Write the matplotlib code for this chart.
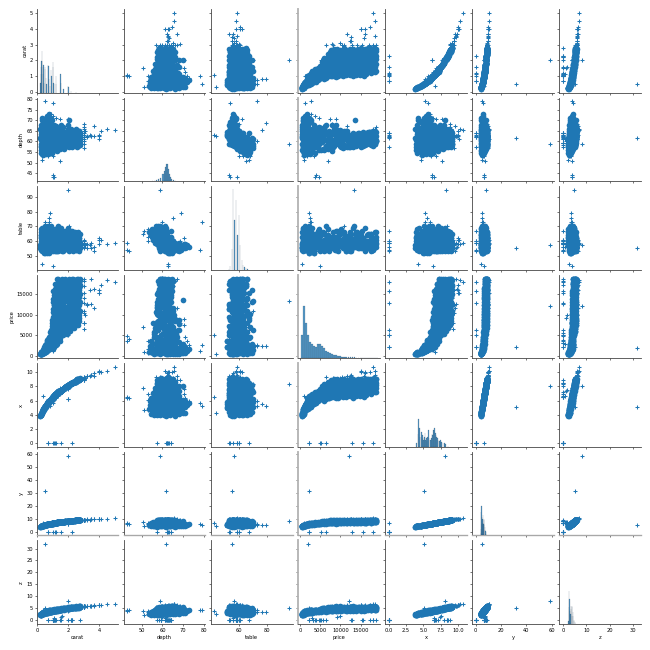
import matplotlib
matplotlib.use("Agg")
import matplotlib.pyplot as plt

NAMES = ["carat", "depth", "table", "price", "x", "y", "z"]

carat = [
    .2,.23,.21,.24,.25,.23,.26,.22,.27,.24,.28,.25,.29,.26,
    .3,.31,.32,.3,.33,.34,.31,.35,.32,.36,.33,.37,.38,.39,
    .4,.41,.42,.43,.4,.44,.45,.41,.46,.47,.42,.48,.49,.45,
    .5,.51,.52,.53,.5,.54,.55,.56,.51,.57,.58,.52,.59,.55,
    .6,.61,.62,.63,.6,.64,.65,.66,.61,.67,.68,.62,.69,.65,
    .7,.71,.72,.73,.7,.74,.75,.71,.76,.77,.72,.78,.79,.75,
    .8,.81,.82,.83,.8,.84,.85,.86,.81,.87,.88,.82,.89,.85,
    .9,.91,.92,.93,.9,.94,.95,.96,.91,.97,.98,.92,.99,.95,
    1,1.01,1,1.02,1.01,1.03,1,1.04,1.02,1.05,1.01,1.03,1.06,1,1.07,1.02,1.04,1.08,1.01,1.05,1.09,1.03,
    1.1,1.11,1.1,1.12,1.13,1.1,1.14,1.11,1.15,1.12,1.16,1.1,1.17,1.13,1.18,1.14,1.12,1.19,1.15,1.16,1.13,1.18,
    1.2,1.21,1.22,1.2,1.23,1.24,1.21,1.25,1.22,1.26,1.23,1.27,1.2,1.28,1.24,1.29,1.25,1.21,1.26,1.23,1.27,1.29,
    1.3,1.31,1.32,1.33,1.3,1.34,1.35,1.31,1.36,1.37,1.32,1.38,1.33,1.39,1.34,1.35,1.36,1.3,1.37,1.38,1.39,1.35,
    1.45,1.5,1.51,1.47,1.52,1.5,1.55,1.53,1.5,1.58,1.54,1.6,1.5,1.56,1.52,1.62,1.51,1.57,1.5,1.59,1.53,1.6,
    1.65,1.7,1.72,1.68,1.75,1.7,1.78,1.71,1.8,1.74,1.82,1.7,1.76,1.85,1.72,1.8,1.73,1.84,1.75,1.7,1.82,1.78,
    1.9,2,2.01,1.95,2.02,2,2.03,1.98,2.05,2.01,2.07,2,2.04,2.1,2.02,2.08,2.01,2.05,2,2.1,2.03,2.06,
    2.15,2.2,2.22,2.18,2.25,2.2,2.28,2.21,2.3,2.24,2.32,2.2,2.26,2.35,2.22,2.3,2.23,2.34,2.25,2.2,2.32,2.28,
    2.4,2.5,2.42,2.52,2.45,2.5,2.55,2.48,2.6,2.51,2.44,2.58,2.5,2.46,2.54,2.6,2.47,2.56,2.5,2.53,2.42,2.58,
    2.65,2.7,2.72,2.68,2.75,2.66,2.7,2.74,2.67,2.71,2.76,2.65,2.72,2.69,2.75,2.8,2.68,2.73,2.7,2.78,2.66,2.74,
    # largest stones
    5.01,4.5,4.13,4.01,4.01,4,3.67,3.65,3.51,3.5,3.4,3.24,3.22,3.11,
    3,3,3,3,3,3,3,3,3,3,3.02,
    # zero and near-zero dimensions
    1,1.01,1.1,1.01,1.5,1.15,2.18,2.25,2.2,2.02,2.8,
    .71,.71,1.07,1,1.14,1.56,1.2,2.25,
    1.12,1.53,1.6,
    # extreme cuts
    1,1,1.09,.5,1.03,.3,1.5,2.01,.81,.79,.77,1.04,.29,
    2,.51,.51,2,2,.35,
    .9,1,1.5,2,1.25,.7,1,.3,2.05,
]
depth = [
    61.5,56,66,59,63.5,60.5,68,57.5,62.5,58,65,61,70,54.5,
    62,55.5,67,59.5,64,60,71,57,63,56.5,65.5,61,53.5,69,
    61.2,57,66,54.5,63.5,59,69.5,60.5,65,56,62.5,58,67.5,64.5,
    61.8,56,67,59,64,60.5,71,54,63,58,65.5,62,69,57,
    62,58,66.5,55,60,64,72,61,57,68,59.5,63.5,61.5,65,
    61.5,56.5,68,59,64,60,73,54,62.5,58,66,63,70.5,57.5,
    62,57,65,60,55,67,61,71,59,63.5,56,64.5,58,69,
    61.6,58,66,54.5,63,59.5,70,60.5,57,65,62.5,68,59,64,
    61.8,66,57,64,59.5,67,62.5,56,60.5,65,58.5,63.5,60,62,57.5,64.5,61,59,63,58,61.5,60,
    60,65,58,63,56,66.5,61,68,59,64,57.5,62,60.5,65.5,58.5,63.5,61.5,59.5,62.5,58,64,60.5,
    62.5,57,66,59,64.5,60.5,67.5,56.5,63,58,65,61,59.5,63.5,57.5,62,60,64,58.5,61.5,63,60,
    59,64,57,61.5,66,58,63,55.5,60.5,65,62,58.5,64,60,61,63.5,57.5,62.5,59.5,61,64,60,
    62,59,66.5,56.5,63.5,60,68,58,64.5,61,57,65,59.5,62.5,60.5,63,58.5,61.5,64,60,62,59,
    61,65,58,63,56.5,67,60,62.5,59,64,57.5,61.5,63.5,59.5,60.5,62,58.5,64.5,61,59,63,60,
    62,66,58,64,60,68,59,65,61,63,57.5,60.5,70,62.5,58.5,64,61,59.5,63.5,60,62,64.5,
    61,64.5,59,66,62,58,65,60.5,63,57.5,61.5,64,59.5,62.5,60,63.5,58.5,61,62,64,59,60.5,
    61,64,59,66,60,62.5,57.5,65,61.5,63,58.5,60,62,64.5,59,61,63.5,60.5,62,58,64,60,
    61,63.5,60,65,58.5,62,59.5,64,60.5,62.5,61,58,63,59,61.5,64,60,62,65,59.5,61,62.5,
    65.5,65.8,64.8,61,62.5,63.3,62.4,67.1,62.5,62.5,63,62.1,62.6,65,
    57,59,60,61,62,63,64,65,66,67,68.5,
    59.1,58.1,63,59.2,64,59.2,59.4,61.3,61.2,62.7,63.8,
    64.1,64.1,61.6,63.3,57.5,62.2,62.1,62.8,
    61,60,61,
    44,43,43,79,78.2,51,50.8,58.6,68.8,65.3,60,62.9,62.8,
    58.9,61.8,61.8,65,60,62,
    73,72,70.5,70.5,71,53,53,53,59.5,
]
table = [
    57,63,55,66,54,60,58,62,59,68,56,64,56,64,
    56,65,55,69,53,61,57,60,58,64,57,62,66,54,
    58,61,55,67,54,65,56,60,59,63,57,70,56,52,
    57,62,54,67,56,60,58,66,52,63,55,59,57,69,
    55,63,57,68,60,54,57,59,65,56,62,52,61,58,
    58,64,56,70,54,60,56,67,52,62,59,55,58,66,
    56,61,54,66,63,57,59,55,68,58,64,60,62,56,
    59,65,54,64,56,61,55,58,70,57,63,53,60,67,
    57,56,62,54,65,58,60,61,60,55,59,56,63,61,60,58,53,66,57,64,59,56,
    60,54,65,57,61,56,53,59,68,55,63,58,60,57,66,54,62,59,56,64,60,58,
    55,62,58,66,53,60,56,64,59,57,54,63,68,56,60,65,58,55,61,57,53,62,
    62,55,67,59,57,64,53,61,60,56,66,58,62,55,70,57,60,54,65,58,56,63,
    58,63,56,66,54,61,57,60,55,67,59,53,64,57,62,56,59,69,55,60,54,62,
    56,60,64,54,59,57,67,61,55,63,58,53,60,66,56,62,58,57,65,59,55,61,
    58,55,63,60,66,56,53,59,62,57,64,69,56,60,55,61,58,65,54,62,57,59,
    60,57,63,55,58,65,56,61,53,59,62,55,67,58,56,60,64,54,59,57,61,66,
    58,56,62,54,64,57,60,55,59,61,66,56,63,58,54,60,57,65,55,62,59,58,
    59,55,62,57,65,54,60,56,63,58,56,61,53,64,59,55,62,57,60,58,66,56,
    59,58,61,61,62,58,56,53,59,55,57,58,55,57,
    59,61,59,58,60,57,55,59,58,56,60,
    59,59,59,58,61,56,61,58,59,53,58,
    60,60,56,53,67,54,59,59,
    56,58,59,
    53,59,54,73,54,67,65,95,79,76,73,43,44,
    57,55,55,59,58,58,
    56,55,58,62,57,60,63,68,70,
]
price = [
    326,420,360,550,480,640,500,700,430,800,560,900,620,1000,
    480,650,560,800,700,950,610,1100,750,1300,900,1200,1050,1500,
    600,800,720,1000,1250,900,700,1400,1100,1700,1900,1300,1000,2100,
    900,1100,1300,1500,1750,1250,1000,1650,2100,1900,2300,2600,1600,2900,
    1100,1350,1600,1900,2200,1500,1250,2500,2900,1800,3200,3500,2100,3800,
    1400,1700,2000,2300,2700,3100,1600,2500,3500,2100,4000,3000,2400,4500,
    1600,2000,2400,2800,3200,3600,4100,2200,4600,3000,5200,5800,3800,2700,
    2000,2600,3000,3600,4400,5000,2800,5600,6400,4000,7200,3300,8000,8800,
    1750,2300,2900,3500,4100,4700,5300,5900,6500,7100,7700,8300,8900,9500,10100,10700,11500,12300,13100,13900,14800,15800,
    2200,2800,3400,4000,4600,5200,5800,6400,7000,7600,8200,8800,9400,10000,10800,11600,12400,13300,14200,15200,16300,17500,
    2700,3200,3800,4400,5000,5600,6200,6800,7400,8000,8700,9400,10100,10900,11700,12500,13400,14300,15300,16400,17500,18600,
    3000,3700,4400,5100,5800,6500,7200,7900,8600,9300,10000,10800,11600,12400,13300,14200,15100,16000,16900,17700,18300,18800,
    3600,4300,5000,5700,6400,7100,7800,8500,9200,9900,10600,11300,12000,12800,13600,14400,15200,16000,16800,17600,18200,18700,
    5000,5700,6400,7100,7800,8500,9200,9900,10600,11300,12000,12700,13400,14100,14800,15500,16200,16900,17500,18000,18400,18800,
    5300,6000,6700,7400,8100,8800,9500,10200,10900,11600,12300,13000,13700,14400,15100,15800,16400,17000,17500,18000,18400,18800,
    6000,6800,7600,8400,9200,10000,10800,11600,12400,13200,14000,14700,15400,16000,16600,17100,17500,17900,18200,18500,18700,18800,
    6800,7500,8200,8900,9600,10300,11000,11700,12400,13100,13800,14500,15100,15700,16200,16700,17100,17500,17900,18200,18500,18800,
    7600,8400,9200,10000,10800,11600,12400,13100,13800,14400,15000,15500,16000,16500,16900,17300,17600,17900,18200,18400,18600,18823,
    18018,18531,17329,15223,15223,15984,16193,11668,18701,12587,15964,12300,12545,9823,
    10400,6512,8040,10863,12800,14000,15300,16970,18110,18800,8000,
    3142,3167,3696,3837,4731,5564,12631,15397,17265,18207,18788,
    2130,2130,4954,5139,6381,12800,15686,18034,
    3000,9200,10000,
    4032,3634,4778,2579,1262,945,6900,13387,2301,2362,2400,4997,474,
    12210,2075,1970,5050,5400,1000,
    2600,3700,7500,9000,4600,1700,3500,600,11000,
]
x = [
    3.85,3.98,3.8,4,4.02,3.95,4.05,3.9,4.15,4.05,4.15,4.1,4.25,4.15,
    4.3,4.4,4.3,4.35,4.4,4.5,4.3,4.6,4.4,4.65,4.45,4.65,4.75,4.7,
    4.7,4.85,4.7,4.95,4.7,4.95,4.8,4.8,4.95,5.1,4.8,5.1,5,4.9,
    5.1,5.25,5.05,5.2,5.05,5.25,5.15,5.45,5.15,5.4,5.35,5.15,5.4,5.35,
    5.4,5.55,5.35,5.65,5.45,5.5,5.45,5.65,5.55,5.55,5.75,5.5,5.75,5.6,
    5.7,5.85,5.65,5.85,5.7,5.85,5.7,5.95,5.85,6,5.8,5.95,5.85,5.95,
    5.9,6.05,5.9,6,6.1,5.95,6.05,5.95,6.1,6.1,6.25,6,6.25,6,
    6.15,6.2,6.15,6.35,6.15,6.3,6.1,6.35,6.25,6.3,6.4,6.2,6.45,6.3,
    6.3,6.35,6.5,6.3,6.45,6.3,6.4,6.55,6.45,6.4,6.55,6.45,6.6,6.4,6.65,6.45,6.55,6.65,6.4,6.6,6.7,6.5,
    6.7,6.6,6.75,6.7,6.8,6.6,6.8,6.6,6.85,6.75,6.9,6.7,6.9,6.7,6.95,6.75,6.75,7,6.85,6.9,6.8,7,
    6.75,6.9,6.75,6.9,6.85,6.95,6.75,7.05,6.85,7.05,6.9,7.05,6.85,7.1,7,7.15,7.05,6.85,7.1,6.95,7.05,7.2,
    7,6.95,7.05,7.1,6.95,7.15,7.1,7.1,7.25,7.15,7.1,7.3,7.1,7.3,7.15,7.2,7.25,7,7.25,7.3,7.3,7.2,
    7.2,7.3,7.25,7.3,7.35,7.3,7.35,7.4,7.25,7.5,7.35,7.45,7.3,7.45,7.4,7.55,7.35,7.5,7.3,7.5,7.4,7.55,
    7.6,7.7,7.75,7.65,7.8,7.7,7.85,7.7,7.9,7.8,7.95,7.7,7.85,8,7.75,7.9,7.8,8,7.8,7.7,7.95,7.85,
    8,8.05,8.15,8,8.15,8,8.2,8.05,8.2,8.1,8.3,8.15,8.1,8.3,8.2,8.25,8.15,8.25,8.05,8.35,8.2,8.2,
    8.3,8.35,8.45,8.3,8.45,8.45,8.45,8.45,8.5,8.55,8.6,8.35,8.5,8.6,8.5,8.55,8.55,8.65,8.5,8.35,8.65,8.55,
    8.6,8.7,8.7,8.7,8.75,8.75,8.95,8.65,9,8.8,8.7,8.95,8.8,8.65,8.85,9,8.7,8.9,8.75,8.9,8.6,9,
    8.9,9,9.05,8.95,9.1,8.9,8.95,9.05,8.9,9.05,9.1,8.85,9.05,8.95,9.1,9.1,8.95,9.05,9,9.15,8.9,9.05,
    10.74,10.23,10,10.14,10.02,10.01,9.86,9.53,9.66,9.65,9.42,9.44,9.49,9.15,
    9.4,9.3,9.25,9.2,9.15,9.1,9.05,9,8.95,8.9,8.9,
    6.55,6.66,6.5,6.5,7.15,6.88,8.49,8.52,8.42,8.02,8.9,
    0,0,0,0,0,0,0,0,
    6.6,7.4,7.5,
    6.31,6.32,6.53,5.21,5.72,4.67,7.73,8.32,5.26,5.52,5.9,6.45,4.2,
    8.09,5.15,5.12,6.25,6.2,6.65,
    5.9,6,6.9,7.7,6.4,6.15,6.9,4.65,8.35,
]
y = [
    3.9,4,3.8,4,4,4,4.1,3.9,4.2,4.1,4.2,4.1,4.3,4.2,
    4.3,4.4,4.3,4.4,4.4,4.5,4.3,4.6,4.4,4.7,4.5,4.7,4.8,4.7,
    4.7,4.9,4.7,5,4.7,5,4.8,4.8,5,5.1,4.8,5.1,5,4.9,
    5.1,5.3,5.1,5.2,5.1,5.3,5.2,5.5,5.2,5.4,5.4,5.2,5.4,5.4,
    5.4,5.6,5.4,5.7,5.5,5.5,5.5,5.7,5.6,5.6,5.8,5.5,5.8,5.6,
    5.7,5.9,5.7,5.9,5.7,5.9,5.7,6,5.9,6,5.8,6,5.9,6,
    5.9,6.1,5.9,6,6.1,6,6.1,6,6.1,6.1,6.3,6,6.3,6,
    6.2,6.2,6.2,6.4,6.2,6.3,6.1,6.4,6.3,6.3,6.4,6.2,6.5,6.3,
    6.3,6.4,6.5,6.3,6.4,6.3,6.4,6.6,6.4,6.4,6.5,6.4,6.6,6.4,6.6,6.4,6.5,6.6,6.4,6.6,6.7,6.5,
    6.7,6.6,6.7,6.7,6.8,6.6,6.8,6.6,6.8,6.7,6.9,6.7,6.9,6.7,6.9,6.7,6.7,7,6.8,6.9,6.8,7,
    6.7,6.9,6.7,6.9,6.8,6.9,6.7,7,6.8,7,6.9,7,6.8,7.1,7,7.1,7,6.8,7.1,6.9,7,7.2,
    7,6.9,7,7.1,6.9,7.1,7.1,7.1,7.2,7.1,7.1,7.3,7.1,7.3,7.1,7.2,7.2,7,7.2,7.3,7.3,7.2,
    7.2,7.3,7.2,7.3,7.3,7.3,7.3,7.4,7.2,7.5,7.3,7.4,7.3,7.4,7.4,7.5,7.3,7.5,7.3,7.5,7.4,7.5,
    7.6,7.7,7.7,7.6,7.8,7.7,7.8,7.7,7.9,7.8,7.9,7.7,7.8,8,7.7,7.9,7.8,8,7.8,7.7,7.9,7.8,
    8,8,8.1,8,8.1,8,8.2,8,8.2,8.1,8.3,8.1,8.1,8.3,8.2,8.2,8.1,8.2,8,8.3,8.2,8.2,
    8.3,8.3,8.4,8.3,8.4,8.4,8.4,8.4,8.5,8.5,8.6,8.3,8.5,8.6,8.5,8.5,8.5,8.6,8.5,8.3,8.6,8.5,
    8.6,8.7,8.7,8.7,8.7,8.7,8.9,8.6,9,8.8,8.7,8.9,8.8,8.6,8.8,9,8.7,8.9,8.7,8.9,8.6,9,
    8.9,9,9,8.9,9.1,8.9,8.9,9,8.9,9,9.1,8.8,9,8.9,9.1,9.1,8.9,9,9,9.1,8.9,9,
    10.54,10.16,9.85,10.1,9.94,9.94,9.81,9.48,9.63,9.59,9.35,9.4,9.42,9.02,
    9.35,9.25,9.2,9.15,9.1,9.05,9,8.95,8.9,8.85,8.85,
    6.48,6.6,6.47,6.47,7.04,6.83,8.45,8.42,8.37,7.95,8.85,
    0,0,6.62,0,0,0,0,0,
    6.6,7.3,7.4,
    6.24,6.27,6.55,5.18,5.59,4.62,7.25,8.31,5.2,5.13,5.85,6.41,4.24,
    58.9,31.8,5.15,6.2,6.15,6.6,
    5.85,5.95,6.85,7.65,6.35,6.1,6.85,4.6,8.3,
]
z = [
    2.37,2.23,2.51,2.36,2.55,2.39,2.75,2.24,2.59,2.35,2.7,2.5,2.97,2.26,
    2.67,2.44,2.88,2.59,2.82,2.7,3.05,2.62,2.77,2.63,2.91,2.84,2.54,3.24,
    2.88,2.76,3.1,2.7,2.98,2.92,3.34,2.9,3.22,2.86,3,2.96,3.38,3.16,
    3.15,2.94,3.38,3.07,3.23,3.18,3.66,2.94,3.24,3.13,3.5,3.19,3.73,3.05,
    3.35,3.22,3.56,3.11,3.27,3.52,3.92,3.45,3.16,3.77,3.42,3.49,3.54,3.64,
    3.51,3.31,3.84,3.45,3.65,3.51,4.16,3.21,3.66,3.48,3.83,3.75,4.12,3.42,
    3.66,3.45,3.84,3.6,3.36,3.99,3.69,4.22,3.6,3.87,3.5,3.87,3.63,4.14,
    3.79,3.6,4.06,3.46,3.87,3.75,4.27,3.84,3.56,4.1,4,4.22,3.81,4.03,
    3.89,4.19,3.71,4.03,3.84,4.22,4,3.67,3.9,4.16,3.83,4.1,3.96,3.97,3.82,4.16,4,3.92,4.03,3.83,4.12,3.9,
    4.02,4.29,3.92,4.22,3.81,4.39,4.15,4.49,4.04,4.32,3.97,4.15,4.17,4.39,4.07,4.29,4.15,4.17,4.28,4,4.35,4.24,
    4.22,3.93,4.46,4.07,4.42,4.2,4.56,3.98,4.32,4.09,4.49,4.3,4.08,4.51,4.03,4.43,4.23,4.38,4.15,4.27,4.44,4.32,
    4.13,4.45,4.02,4.37,4.59,4.15,4.47,3.94,4.39,4.65,4.4,4.27,4.54,4.38,4.36,4.57,4.17,4.38,4.31,4.45,4.67,4.32,
    4.46,4.31,4.82,4.12,4.67,4.38,5,4.29,4.68,4.58,4.19,4.84,4.34,4.66,4.48,4.76,4.3,4.61,4.67,4.5,4.59,4.45,
    4.64,5,4.5,4.82,4.41,5.16,4.71,4.81,4.66,4.99,4.57,4.74,4.98,4.76,4.69,4.9,4.56,5.16,4.76,4.54,5.01,4.71,
    4.96,5.31,4.73,5.12,4.89,5.44,4.84,5.23,5,5.1,4.77,4.93,5.67,5.19,4.8,5.28,4.97,4.91,5.11,5.01,5.08,5.29,
    5.06,5.39,4.99,5.48,5.24,4.9,5.49,5.11,5.36,4.92,5.29,5.34,5.06,5.38,5.1,5.43,5,5.28,5.27,5.34,5.1,5.17,
    5.25,5.57,5.13,5.74,5.25,5.47,5.15,5.62,5.54,5.54,5.09,5.37,5.46,5.58,5.22,5.49,5.52,5.38,5.43,5.16,5.5,5.4,
    5.43,5.72,5.43,5.82,5.32,5.52,5.33,5.79,5.38,5.66,5.55,5.13,5.7,5.28,5.6,5.82,5.37,5.61,5.85,5.44,5.43,5.66,
    6.98,6.72,6.43,6.17,6.24,6.31,6.13,6.38,6.03,6.03,5.91,5.85,5.92,5.98,
    5.35,5.5,5.54,5.6,5.66,5.72,5.78,5.84,5.89,5.95,6.1,
    0,0,0,0,0,0,0,0,0,0,0,
    0,0,0,0,0,0,0,0,
    1.07,1.53,1.9,
    4.12,3.97,4.12,4.09,4.42,2.37,3.93,4.9,3.58,3.35,3.55,4.04,2.65,
    8.06,5.12,31.8,4.1,3.7,4.1,
    4.3,4.3,4.85,5.4,4.55,3.25,3.65,2.45,4.95,
]
COLUMNS = [carat, depth, table, price, x, y, z]

# the first rows make up the solid body of each cloud, the rest are stragglers
CORE_ROWS = 332

# diagonal bars: left edge of each bin and its height as a share of the panel
carat_bins = [.2,.23,.25,.28,.3,.32,.35,.38,.4,.43,.5,.52,.55,.6,.7,.72,.75,.8,.9,.92,1,1.02,1.05,1.1,1.2,1.22,1.5,1.52,1.7,2,2.02,2.2,2.5]
carat_bars = [.12,.3,.22,.38,.5,.38,.3,.22,.33,.12,.3,.28,.18,.1,.33,.32,.16,.08,.27,.2,.37,.3,.12,.1,.2,.1,.22,.12,.04,.08,.07,.02,.01]
depth_bins = [55,56,57,58,59,60,60.5,61,61.5,62,62.5,63,63.5,64,65,66]
depth_bars = [.004,.005,.01,.02,.04,.08,.12,.17,.2,.2,.14,.08,.05,.03,.015,.005]
table_bins = [53,54,55,56,57,58,59,60,61,62,63,64,65,66]
table_bars = [.01,.05,.25,.96,.6,.83,.42,.65,.3,.12,.06,.03,.02,.01]
price_bins = [250,750,1250,1750,2250,2750,3250,3750,4250,4750,5250,5750,6250,6750,7250,7750,8250,8750,9250,9750,10250,10750,11250,11750,12250,12750,13250,13750,14250,14750,15250,15750,16250,16750,17250,17750,18250,18750]
price_bars = [.28,.62,.42,.28,.2,.17,.15,.14,.17,.17,.15,.12,.09,.08,.065,.05,.04,.035,.03,.025,.02,.02,.016,.015,.013,.011,.01,.009,.008,.008,.007,.007,.006,.005,.005,.004,.004,.003]
x_bins = [4,4.2,4.3,4.4,4.5,4.6,4.7,4.8,4.9,5,5.1,5.2,5.3,5.4,5.5,5.6,5.7,5.8,5.9,6,6.1,6.2,6.3,6.4,6.5,6.6,6.7,6.8,6.9,7,7.1,7.2,7.3,7.4,7.5,7.6,7.8,8,8.1,8.2,8.5]
x_bars = [.05,.15,.33,.22,.12,.12,.18,.14,.1,.08,.12,.16,.08,.1,.07,.12,.2,.1,.08,.08,.1,.15,.14,.2,.2,.22,.16,.14,.12,.1,.08,.07,.07,.08,.06,.06,.05,.05,.04,.03,.01]
y_bins = [3.8,4.1,4.3,4.5,4.7,5,5.2,5.4,5.7,6,6.2,6.5,6.7,7,7.3,7.6,8,8.3,8.7]
y_bars = [.03,.08,.28,.35,.22,.14,.2,.15,.24,.14,.13,.18,.2,.1,.07,.05,.04,.02,.005]
z_bins = [2.4,2.6,2.7,2.8,3,3.2,3.4,3.5,3.7,3.9,4,4.2,4.4,4.6,4.8,5,5.3]
z_bars = [.03,.2,.4,.3,.15,.12,.18,.22,.1,.2,.22,.14,.1,.05,.04,.02,.005]
DIAG = [(carat_bins, carat_bars, .02), (depth_bins, depth_bars, .5), (table_bins, table_bars, .15),
        (price_bins, price_bars, 480), (x_bins, x_bars, .09), (y_bins, y_bars, .2), (z_bins, z_bars, .12)]

carat_ticks = [0, 2, 4]
depth_xticks = [50, 60, 70, 80]
table_xticks = [60, 80]
price_ticks = [0, 5000, 10000, 15000]
x_xticks = [0, 2.5, 5, 7.5, 10]
x_xlabels = ["0.0", "2.5", "5.0", "7.5", "10.0"]
y_xticks = [0, 20, 40, 60]
z_xticks = [0, 10, 20, 30]
XTICKS = [carat_ticks, depth_xticks, table_xticks, price_ticks, x_xticks, y_xticks, z_xticks]

carat_yticks = [0, 1, 2, 3, 4, 5]
depth_yticks = [45, 50, 55, 60, 65, 70, 75, 80]
table_yticks = [50, 60, 70, 80, 90]
x_yticks = [0, 2, 4, 6, 8, 10]
y_yticks = [0, 10, 20, 30, 40, 50, 60]
z_yticks = [0, 5, 10, 15, 20, 25, 30]
YTICKS = [carat_yticks, depth_yticks, table_yticks, price_ticks, x_yticks, y_yticks, z_yticks]

BLUE = "#1f77b4"

# 37 dpi keeps the default font sizes and line widths of a 2.5 inch pair grid
fig, axes = plt.subplots(7, 7, figsize=(17.5, 17.5), sharex="col", sharey="row")
fig.subplots_adjust(left=36.5 / 650, right=641 / 650, top=1 - 9 / 650, bottom=1 - 624 / 650,
                    wspace=.064, hspace=.06)

for r in range(7):
    for c in range(7):
        ax = axes[r][c]
        if r != c:
            # round underlay closes the gaps between plus signs in the dense body
            ax.scatter(COLUMNS[c][:CORE_ROWS], COLUMNS[r][:CORE_ROWS], marker="o", s=120,
                       linewidths=0, color=BLUE)
            ax.scatter(COLUMNS[c], COLUMNS[r], marker="+", s=56, linewidths=2, color=BLUE)
        for side in ("top", "right"):
            ax.spines[side].set_visible(False)
        for side in ("left", "bottom"):
            ax.spines[side].set_linewidth(1.6)
            ax.spines[side].set_color("#444444")
        ax.tick_params(width=1.4, color="#444444")
        if c == 0:
            ax.set_ylabel(NAMES[r])
        if r == 6:
            ax.set_xlabel(NAMES[c])

# price column and y row carry a heavier pale axis line
for ax in axes[:, 3]:
    ax.spines["left"].set_linewidth(3.6)
    ax.spines["left"].set_color("#b4b4b4")
for ax in axes[5, :]:
    ax.spines["bottom"].set_linewidth(2.6)
    ax.spines["bottom"].set_color("#a8a8a8")

for i, (bins, bars, width) in enumerate(DIAG):
    twin = axes[i][i].twinx()
    twin.bar(bins, bars, width=width, align="edge", color=BLUE, alpha=.75,
             edgecolor="#16324a", linewidth=.4)
    twin.set_ylim(0, 1)
    twin.axis("off")

for i in range(7):
    axes[6][i].set_xticks(XTICKS[i])
    axes[i][0].set_yticks(YTICKS[i])
axes[6][4].set_xticklabels(x_xlabels)

# limits follow from the scatter columns, the diagonal shares them
for i, col in enumerate(COLUMNS):
    pad = (max(col) - min(col)) * .05
    axes[6][i].set_xlim(min(col) - pad, max(col) + pad)
    axes[i][0].set_ylim(min(col) - pad, max(col) + pad)

fig.savefig("out.png", dpi=650 / 17.5)
